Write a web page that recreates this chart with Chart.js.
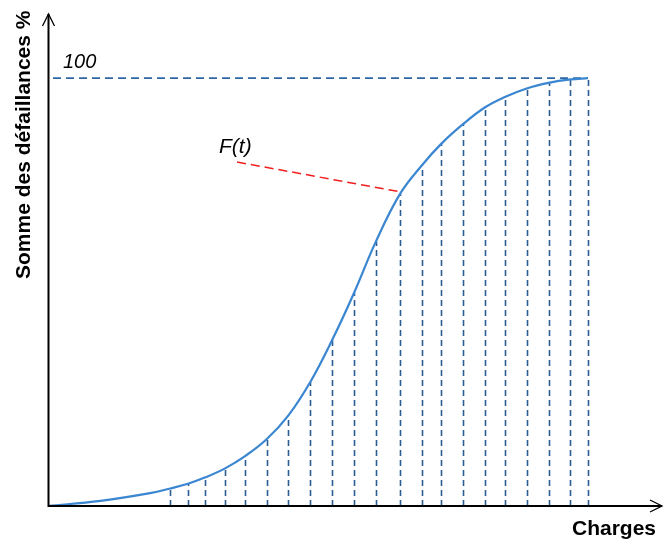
<!DOCTYPE html>
<html>
<head>
<meta charset="utf-8">
<script src="https://cdn.jsdelivr.net/npm/chart.js@4/dist/chart.umd.min.js"></script>
<style>
  body { margin: 0; background: #fff; }
  canvas { display: block; }
</style>
</head>
<body>
<canvas id="chart" width="665" height="541"></canvas>
<script>
// courbe F(t) : charges (unités arbitraires) / somme des défaillances (%)
const curveX = [0, 2.4, 4.67, 5.6, 6.4, 7.2, 8.1, 9, 10, 11, 12, 13, 14, 15, 16.1, 17.1, 18, 19, 20, 20.9, 21.9, 22.9, 23.9, 24.7];
const curveY = [0, 1.2, 3.0, 4.1, 5.2, 6.7, 8.8, 11.6, 15.6, 21.2, 29.0, 38.8, 49.8, 61.8, 72.9, 79.6, 84.7, 89.3, 93.2, 95.6, 97.6, 98.9, 99.7, 100];
// the dashed verticals start at the 4th point
const firstDrop = 3;
const maxLine = [0.23, 24.7];
const maxValue = 100;
const labelPoint = [8.65, 80.4];
const labelTarget = [16.15, 73.4];

const points = curveX.map((x, i) => ({ x: x, y: curveY[i] }));

const drawExtras = {
    id: 'extras',
    beforeDatasetsDraw(chart) {
        const ctx = chart.ctx;
        const xs = chart.scales.x, ys = chart.scales.y;
        ctx.save();
        ctx.strokeStyle = '#2b5d93';
        ctx.lineWidth = 1.6;
        ctx.setLineDash([6, 4]);
        for (let i = firstDrop; i < curveX.length; i++) {
            const px = Math.round(xs.getPixelForValue(curveX[i])) + 0.5;
            ctx.beginPath();
            ctx.moveTo(px, ys.getPixelForValue(0));
            ctx.lineTo(px, ys.getPixelForValue(curveY[i]));
            ctx.stroke();
        }
        // red pointer for F(t)
        ctx.strokeStyle = '#f01e1e';
        ctx.lineWidth = 1.5;
        ctx.setLineDash([9, 5]);
        ctx.beginPath();
        ctx.moveTo(xs.getPixelForValue(labelPoint[0]), ys.getPixelForValue(labelPoint[1]));
        ctx.lineTo(xs.getPixelForValue(labelTarget[0]), ys.getPixelForValue(labelTarget[1]));
        ctx.stroke();
        ctx.restore();
    },
    afterDatasetsDraw(chart) {
        const ctx = chart.ctx;
        const a = chart.chartArea;
        const x0 = a.left + 0.5, y0 = a.bottom;
        ctx.save();
        ctx.strokeStyle = '#000';
        ctx.lineWidth = 2;
        ctx.setLineDash([]);
        // axes
        ctx.beginPath();
        ctx.moveTo(x0, y0);
        ctx.lineTo(x0, a.top);
        ctx.moveTo(x0 - 1, y0);
        ctx.lineTo(a.right + 2, y0);
        ctx.stroke();
        // arrows
        ctx.lineWidth = 1.3;
        ctx.beginPath();
        ctx.moveTo(x0 - 6, a.top + 12);
        ctx.lineTo(x0, a.top);
        ctx.lineTo(x0 + 6, a.top + 12);
        ctx.moveTo(a.right - 10, y0 - 6);
        ctx.lineTo(a.right + 2, y0);
        ctx.lineTo(a.right - 10, y0 + 6);
        ctx.stroke();

        ctx.fillStyle = '#000';
        ctx.textBaseline = 'alphabetic';
        ctx.font = 'italic 20px "Liberation Sans", Arial, sans-serif';
        ctx.fillText('100', 63, 68);
        ctx.font = 'italic 21px "Liberation Sans", Arial, sans-serif';
        ctx.fillText('F(t)', 219, 153);
        ctx.font = 'bold 21px "Liberation Sans", Arial, sans-serif';
        ctx.fillText('Charges', 572, 535);
        ctx.translate(30, 279);
        ctx.rotate(-Math.PI / 2);
        ctx.fillText('Somme des défaillances %', 0, 0);
        ctx.restore();
    }
};

new Chart(document.getElementById('chart'), {
    type: 'line',
    data: {
        datasets: [
            {
                data: points,
                borderColor: '#3a86d0',
                borderWidth: 2.2,
                pointRadius: 0,
                tension: 0.4,
                fill: false
            },
            {
                data: maxLine.map(x => ({ x: x, y: maxValue })),
                borderColor: '#2e66a3',
                borderWidth: 1.6,
                borderDash: [8, 5],
                pointRadius: 0,
                fill: false
            }
        ]
    },
    options: {
        responsive: false,
        animation: false,
        layout: { padding: { left: 48, right: 5, top: 14, bottom: 35 } },
        plugins: { legend: { display: false }, tooltip: { enabled: false } },
        scales: {
            x: { type: 'linear', min: 0, max: 28, display: false },
            y: { type: 'linear', min: 0, max: 115, display: false }
        }
    },
    plugins: [drawExtras]
});
</script>
</body>
</html>
